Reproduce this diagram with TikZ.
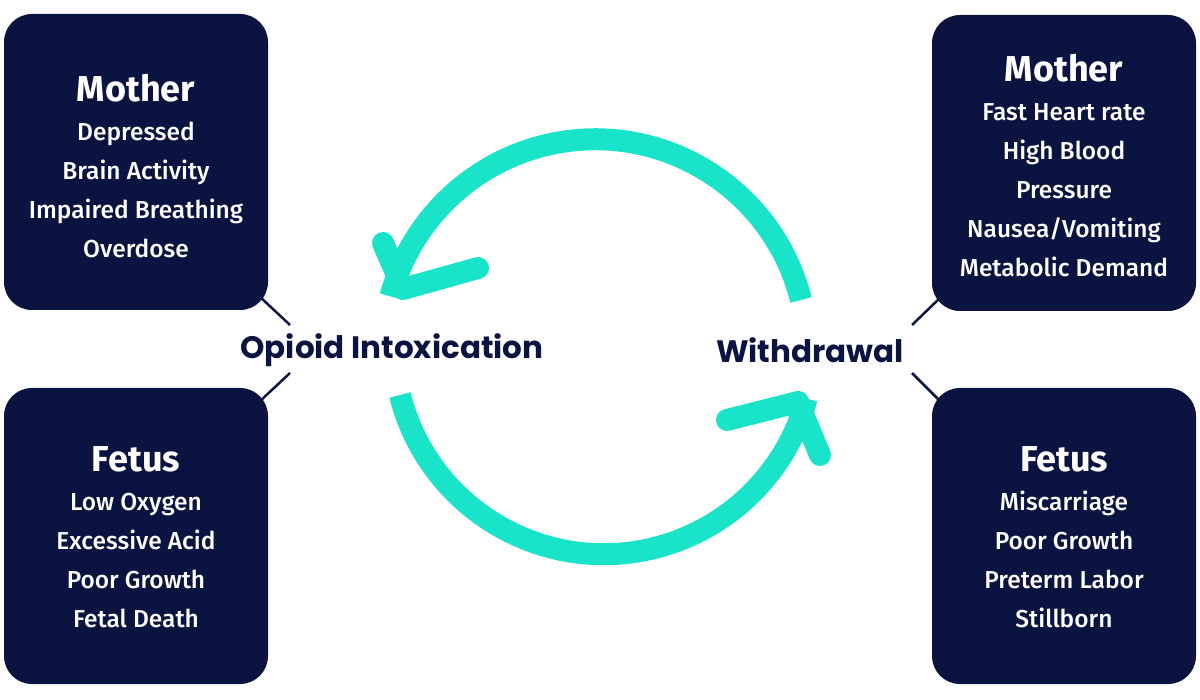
\documentclass[tikz,border=0pt]{standalone}
\usepackage{fontspec}
\setmainfont{Fira Sans}[UprightFont=* Medium,BoldFont=* Bold]
\newfontfamily\labelfont{Poppins}
\definecolor{navy}{HTML}{0B1340}
\definecolor{teal}{HTML}{19E3C9}
\tikzset{every picture/.style={line width=0.75pt}}
\tikzset{
  infobox/.style={fill=navy,rounded corners=28pt,minimum width=264pt,minimum height=296pt,inner sep=0pt},
  boxtext/.style={text=white,align=center,font=\fontsize{24.5}{39}\selectfont},
  cyclelabel/.style={text=navy,font=\labelfont\bfseries\fontsize{31}{36}\selectfont},
  cyclearc/.style={teal,line width=22pt},
  cyclehead/.style={teal,line width=22pt,line cap=round,line join=round},
  tick/.style={navy,line width=2.5pt}
}
\begin{document}
\begin{tikzpicture}[x=1pt,y=1pt,yscale=-1,xscale=1]
	\useasboundingbox (0,0) rectangle (1200,700);

	% Boxes
	\node[infobox] (mothL) at (136,162) {};
	\node[infobox] (fetL) at (136,536) {};
	\node[infobox] (mothR) at (1064,163) {};
	\node[infobox] (fetR) at (1064,536) {};

	% Box texts
	\node[boxtext,anchor=north] (tmothL) at (136,71) {{\bfseries\fontsize{36}{39}\selectfont Mother}\\Depressed\\Brain Activity\\Impaired Breathing\\Overdose};
	\node[boxtext,anchor=north] (tfetL) at (136,443) {{\bfseries\fontsize{36}{39}\selectfont Fetus}\\Low Oxygen\\Excessive Acid\\Poor Growth\\Fetal Death};
	\node[boxtext,anchor=north] (tmothR) at (1064,51) {{\bfseries\fontsize{36}{39}\selectfont Mother}\\Fast Heart rate\\High Blood\\Pressure\\Nausea/Vomiting\\Metabolic Demand};
	\node[boxtext,anchor=north] (tfetR) at (1064,443) {{\bfseries\fontsize{36}{39}\selectfont Fetus}\\Miscarriage\\Poor Growth\\Preterm Labor\\Stillborn};

	% Labels
	\node[cyclelabel] (intox) at (392,350) {Opioid Intoxication};
	\node[cyclelabel] (withd) at (810,350) {Withdrawal};

	% Ticks
	\draw[tick] (mothL.south east)++(-10,-15) -- (290,325);
	\draw[tick] (fetL.north east)++(-10,15) -- (290,373);
	\draw[tick] (mothR.south west)++(10,-15) -- (912,325);
	\draw[tick] (fetR.north west)++(10,15) -- (912,373);

	% Cycle arrows
	\draw[cyclearc] (801,300) arc[start angle=-14,end angle=-165,radius=212];
	\draw[cyclehead] (383,243) -- (403,289) -- (478,268);
	\draw[cyclearc] (400,395) arc[start angle=166,end angle=15,radius=210];
	\draw[cyclehead] (727,420) -- (798,402) -- (820,455);

\end{tikzpicture}
\end{document}
